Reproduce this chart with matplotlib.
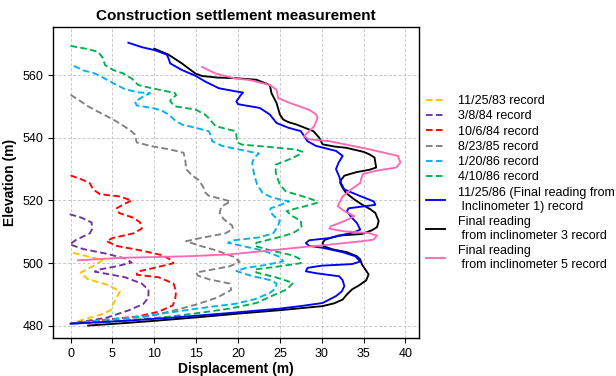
import numpy as np
import matplotlib
matplotlib.use('Agg')
import matplotlib.pyplot as plt

plt.rcParams['font.family'] = ['Liberation Sans', 'DejaVu Sans']

# inclinometer readings: elevation (m) and horizontal displacement (m)
elev_831125 = [503.3, 502.5, 501.0, 499.5, 497.0, 495.0, 493.0, 491.0, 489.0, 486.5, 485.0, 483.5, 482.0, 480.7]
disp_831125 = [0.3, 1.5, 3.8, 3.0, 1.2, 2.0, 4.5, 5.9, 5.5, 5.0, 4.8, 3.5, 1.5, 0.0]

elev_840308 = [515.6, 514.5, 513.0, 511.0, 509.5, 507.5, 506.0, 504.5, 503.0, 501.5, 500.2, 499.0, 498.0,
               497.3, 496.5, 495.5, 493.5, 491.5, 489.0, 487.0, 485.0, 482.6, 480.7]
disp_840308 = [-0.1, 1.3, 2.5, 2.6, 2.3, 0.7, -0.1, 1.5, 4.3, 6.5, 7.3, 5.5, 3.5,
               2.9, 4.5, 6.5, 8.5, 9.3, 9.3, 8.7, 7.0, 4.3, 0.0]

elev_841006 = [528.0, 526.5, 525.5, 523.5, 522.0, 521.3, 520.0, 519.0, 517.5, 516.0, 514.5, 513.0, 511.0,
               509.5, 508.0, 507.0, 505.5, 504.0, 502.5, 501.0, 500.0, 498.5, 497.3, 496.3, 495.5, 493.5,
               491.0, 488.5, 486.5, 484.5, 483.0, 482.0, 480.7]
disp_841006 = [0.0, 1.5, 2.3, 2.7, 3.5, 5.8, 7.3, 6.5, 5.5, 5.8, 7.5, 8.3, 8.5,
               7.5, 5.0, 4.3, 5.5, 8.5, 11.0, 12.0, 12.3, 10.0, 8.0, 7.9, 10.5, 12.3,
               12.6, 12.5, 12.2, 10.5, 8.0, 4.3, 0.0]

elev_850823 = [553.7, 552.0, 550.0, 548.0, 545.8, 543.5, 542.0, 541.0, 538.5, 537.3, 536.2, 535.2, 533.0,
               530.0, 528.0, 526.5, 524.5, 522.5, 521.5, 520.5, 519.7, 518.0, 516.0, 514.0, 512.0, 511.0,
               509.5, 508.0, 507.0, 505.5, 504.0, 502.0, 500.5, 499.0, 498.0, 497.0, 496.0, 494.8, 493.5,
               491.5, 489.0, 486.8, 485.0, 483.1, 481.5, 480.7]
disp_850823 = [0.0, 1.0, 2.1, 3.5, 5.1, 6.5, 7.3, 7.7, 7.9, 9.7, 12.0, 13.5, 13.7,
               13.8, 14.5, 15.3, 15.8, 16.1, 16.5, 18.0, 19.1, 18.0, 17.8, 18.3, 19.3, 19.4,
               18.5, 15.5, 13.8, 15.5, 17.5, 19.5, 20.2, 19.0, 17.0, 15.0, 15.2, 16.6, 19.0,
               19.2, 17.5, 15.0, 12.5, 9.5, 3.5, 0.0]

elev_860120 = [562.9, 561.5, 560.5, 559.0, 557.1, 555.5, 554.5, 554.2, 553.2, 551.5, 550.3, 549.3, 548.5,
               547.4, 545.5, 544.2, 543.2, 542.1, 540.5, 538.9, 537.4, 536.5, 535.5, 535.0, 533.5, 532.0,
               530.0, 527.5, 525.0, 522.5, 521.0, 520.0, 519.7, 518.5, 517.5, 516.5, 515.0, 513.5, 511.5,
               509.5, 508.2, 507.3, 506.5, 505.5, 504.0, 502.0, 500.6, 499.5, 498.5, 497.5, 496.0, 494.5,
               493.5, 492.0, 490.5, 488.5, 487.0, 486.0, 484.5, 483.0, 481.8, 480.7]
disp_860120 = [0.4, 1.5, 2.9, 4.0, 5.3, 6.5, 8.0, 9.5, 8.7, 7.7, 7.9, 10.1, 11.0,
               11.7, 12.5, 13.3, 14.9, 16.5, 16.8, 16.9, 18.1, 19.7, 21.5, 22.5, 21.9, 21.7,
               21.8, 22.0, 22.3, 22.9, 24.0, 25.5, 26.1, 25.0, 23.9, 23.8, 24.3, 25.0, 24.7,
               24.2, 22.5, 19.5, 18.8, 20.5, 23.0, 25.0, 25.4, 23.5, 21.0, 19.8, 21.5, 24.0,
               24.6, 24.5, 23.8, 22.0, 19.6, 16.5, 12.5, 8.5, 3.5, 0.0]

elev_860410 = [569.3, 568.3, 567.4, 565.3, 563.2, 561.6, 560.5, 558.9, 556.8, 555.8, 554.8, 554.2, 553.5,
               552.5, 551.6, 550.5, 550.0, 549.0, 547.5, 546.3, 543.7, 542.1, 541.0, 538.5, 537.8, 537.0,
               536.2, 535.5, 534.5, 533.5, 531.4, 529.0, 527.2, 525.0, 522.9, 521.5, 520.2, 519.3, 518.5,
               517.5, 516.6, 515.0, 513.5, 511.3, 509.5, 508.0, 506.5, 505.5, 504.0, 502.5, 501.2, 500.0,
               499.0, 498.0, 497.0, 495.5, 493.7, 491.6, 489.5, 487.3, 485.5, 484.0, 483.0, 482.0, 481.0,
               480.7]
disp_860410 = [0.0, 2.0, 3.3, 3.9, 4.1, 5.1, 6.3, 7.3, 8.1, 9.7, 11.5, 12.5, 12.6,
               12.0, 11.9, 12.3, 12.5, 14.9, 16.0, 16.5, 17.3, 19.7, 19.8, 19.9, 20.5, 24.0,
               27.0, 27.7, 27.2, 26.5, 24.5, 24.5, 24.7, 25.0, 25.7, 27.5, 29.0, 29.5, 28.5,
               27.0, 25.8, 26.5, 27.5, 27.6, 26.5, 24.5, 22.2, 22.0, 24.0, 26.5, 27.5, 27.5,
               25.0, 22.0, 22.2, 24.5, 26.6, 25.8, 24.0, 22.2, 19.0, 15.0, 12.0, 8.0, 3.0,
               0.0]

elev_incl1 = [570.3, 568.9, 567.9, 566.5, 565.3, 563.7, 561.6, 559.8, 557.9, 555.8, 554.9, 554.4, 553.5,
              551.6, 550.7, 549.5, 547.4, 544.7, 543.2, 542.1, 538.9, 537.4, 535.8, 534.2, 532.0, 530.0,
              527.5, 525.5, 523.5, 521.5, 519.7, 518.6, 517.5, 516.5, 514.5, 512.8, 510.7, 510.0, 509.0,
              508.0, 507.3, 506.4, 505.5, 504.9, 503.5, 502.2, 500.5, 499.7, 499.2, 498.5, 497.4, 496.8,
              495.8, 494.5, 492.7, 491.0, 489.5, 487.3, 486.5, 485.5, 484.1, 482.7, 481.6, 480.7]
disp_incl1 = [6.9, 8.5, 10.1, 11.5, 11.7, 11.9, 13.3, 14.9, 16.1, 17.7, 19.5, 20.6, 20.3,
              19.8, 20.0, 22.6, 23.8, 24.6, 26.0, 27.5, 28.3, 29.3, 31.7, 32.5, 32.0, 31.7,
              32.1, 32.3, 32.7, 34.5, 36.2, 36.4, 33.2, 33.0, 33.6, 34.2, 34.6, 34.0, 32.5,
              30.9, 28.5, 28.1, 28.5, 30.1, 32.5, 34.0, 34.6, 33.6, 30.0, 28.3, 28.1, 29.3,
              32.1, 32.5, 32.7, 32.4, 31.7, 30.1, 28.0, 25.0, 19.0, 12.5, 6.5, 0.0]

elev_incl3 = [568.4, 566.5, 563.7, 560.5, 559.7, 559.2, 559.0, 558.5, 556.8, 554.2, 551.1, 547.4, 545.8,
              545.0, 544.2, 542.1, 540.0, 537.9, 537.2, 536.8, 535.5, 534.7, 533.7, 530.5, 529.8, 529.0,
              527.9, 526.5, 525.6, 524.0, 522.4, 520.5, 518.7, 517.2, 516.0, 513.4, 511.5, 510.5, 509.3,
              508.8, 507.5, 506.5, 505.4, 504.4, 503.5, 502.2, 501.2, 499.6, 496.4, 494.5, 493.0, 491.6,
              490.0, 488.4, 487.2, 486.3, 485.0, 483.9, 482.7, 481.6, 480.8, 480.1]
disp_incl3 = [10.0, 11.7, 13.3, 14.9, 15.7, 17.5, 19.7, 22.2, 23.8, 24.0, 24.6, 25.0, 25.4,
              26.0, 27.0, 29.0, 29.7, 30.1, 31.5, 32.9, 35.0, 35.7, 36.3, 36.5, 35.7, 34.1,
              32.7, 32.3, 32.2, 32.5, 32.9, 33.8, 34.8, 35.8, 36.4, 36.8, 36.6, 36.0, 34.8,
              32.0, 30.4, 30.1, 30.2, 31.3, 33.0, 34.2, 34.6, 34.8, 35.6, 35.3, 34.5, 33.6,
              33.0, 32.5, 31.5, 30.1, 25.0, 20.0, 15.0, 10.0, 6.0, 2.1]

elev_incl5 = [562.6, 560.5, 558.9, 558.4, 556.8, 555.3, 552.6, 551.1, 548.9, 547.5, 546.3, 543.7, 540.5,
              539.5, 538.9, 537.5, 536.3, 534.2, 532.1, 530.5, 529.5, 528.4, 526.8, 525.6, 523.5, 521.3,
              518.2, 516.6, 515.0, 513.4, 511.8, 511.0, 510.2, 509.6, 508.8, 507.5, 507.0, 505.9, 504.9,
              503.8, 502.8, 502.2, 501.7, 500.9]
disp_incl5 = [15.7, 17.3, 19.7, 21.4, 23.8, 24.6, 24.8, 26.2, 28.5, 29.3, 29.5, 29.1, 27.9,
              28.5, 30.9, 33.5, 35.7, 39.1, 39.4, 38.9, 36.5, 34.9, 34.7, 34.6, 33.5, 32.5,
              31.9, 32.7, 33.9, 32.7, 31.1, 30.9, 32.5, 35.6, 36.6, 36.2, 34.8, 30.9, 26.9,
              22.9, 19.0, 14.0, 6.1, 0.9]

dashed_sets = [
    (disp_831125, elev_831125, '#FFC000', '11/25/83 record'),
    (disp_840308, elev_840308, '#7030A0', '3/8/84 record'),
    (disp_841006, elev_841006, '#FF0000', '10/6/84 record'),
    (disp_850823, elev_850823, '#808080', '8/23/85 record'),
    (disp_860120, elev_860120, '#00B0F0', '1/20/86 record'),
    (disp_860410, elev_860410, '#00B050', '4/10/86 record'),
]
solid_sets = [
    (disp_incl1, elev_incl1, '#0000FF', '11/25/86 (Final reading from\n Inclinometer 1) record', 3.2),
    (disp_incl3, elev_incl3, '#000000', 'Final reading\n from inclinometer 3 record', 3.1),
    (disp_incl5, elev_incl5, '#FF69B4', 'Final reading\n from inclinometer 5 record', 3.3),
]

fig = plt.figure(figsize=(6.16, 3.76), dpi=100)
ax = fig.add_axes([0.086, 0.100, 0.594, 0.828])

for d, e, c, lab in dashed_sets:
    ax.plot(d, e, color=c, lw=1.35, linestyle=(0, (3.5, 1.8)), label=lab, zorder=2)
for d, e, c, lab, z in solid_sets:
    ax.plot(d, e, color=c, lw=1.35, label=lab, zorder=z)

ax.set_xlim(-2.1, 41.6)
ax.set_ylim(476, 575.3)
ax.set_xticks(np.arange(0, 41, 5))
ax.set_yticks(np.arange(480, 561, 20))
ax.grid(True, color='#c8c8c8', linestyle=(0, (3, 2)), linewidth=0.7)
ax.set_axisbelow(True)
ax.tick_params(labelsize=9, length=3.5, width=0.8)
for s in ax.spines.values():
    s.set_linewidth(1.0)

ax.set_title('Construction settlement measurement', fontsize=11, fontweight='bold', pad=5)
ax.set_xlabel('Displacement (m)', fontsize=10, fontweight='bold', labelpad=1)
ax.set_ylabel('Elevation (m)', fontsize=10, fontweight='bold', labelpad=4)

fig.legend(loc='upper left', bbox_to_anchor=(0.683, 0.76), frameon=False, fontsize=9,
           handlelength=1.55, handletextpad=1.0, labelspacing=0.26, borderaxespad=0)

fig.savefig('out.png', dpi=100)
